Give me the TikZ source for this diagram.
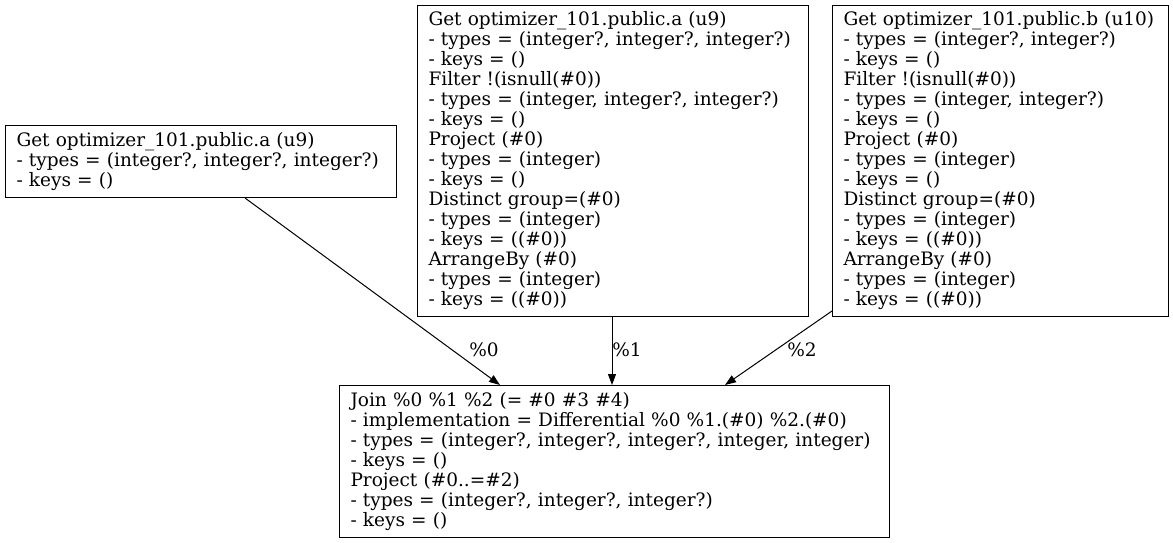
\documentclass[tikz,border=0pt]{standalone}
\usepackage{fontspec}
\setmainfont{DejaVu Serif}
\usetikzlibrary{arrows.meta,calc}
\begin{document}
\begin{tikzpicture}[x=1pt,y=-1pt,
  box/.style={draw,line width=1pt,rectangle,anchor=north west,inner xsep=11pt,inner ysep=0pt,
    align=left,font=\fontsize{18.5}{20}\selectfont},
  lbl/.style={font=\fontsize{18.5}{20}\selectfont,inner sep=0pt},
  conn/.style={line width=1pt,-{Triangle[length=11pt,width=8pt]}}]
\useasboundingbox (0,0) rectangle (1173,543);
\node[box,minimum width=391pt,minimum height=72pt,text width=369pt] (a) at (5,125)
{Get optimizer\_101.public.a (u9)\\- types = (integer?, integer?, integer?)\\- keys = ()};
\node[box,minimum width=391pt,minimum height=311pt,text width=369pt] (m) at (417,5)
{Get optimizer\_101.public.a (u9)\\- types = (integer?, integer?, integer?)\\- keys = ()\\Filter !(isnull(\#0))\\- types = (integer, integer?, integer?)\\- keys = ()\\Project (\#0)\\- types = (integer)\\- keys = ()\\Distinct group=(\#0)\\- types = (integer)\\- keys = ((\#0))\\ArrangeBy (\#0)\\- types = (integer)\\- keys = ((\#0))};
\node[box,minimum width=336pt,minimum height=311pt,text width=314pt] (r) at (832,5)
{Get optimizer\_101.public.b (u10)\\- types = (integer?, integer?)\\- keys = ()\\Filter !(isnull(\#0))\\- types = (integer, integer?)\\- keys = ()\\Project (\#0)\\- types = (integer)\\- keys = ()\\Distinct group=(\#0)\\- types = (integer)\\- keys = ((\#0))\\ArrangeBy (\#0)\\- types = (integer)\\- keys = ((\#0))};
\node[box,minimum width=550pt,minimum height=152pt,text width=528pt] (j) at (339,385)
{Join \%0 \%1 \%2 (= \#0 \#3 \#4)\\- implementation = Differential \%0 \%1.(\#0) \%2.(\#0)\\- types = (integer?, integer?, integer?, integer, integer)\\- keys = ()\\Project (\#0..=\#2)\\- types = (integer?, integer?, integer?)\\- keys = ()};
\draw[conn] ($(a.south west)+(240,0)$) -- ($(j.north west)+(161,0)$);
\node[lbl] (l0) at (484,350) {\%0};
\draw[conn] ($(m.south west)+(195,0)$) -- ($(j.north west)+(273,0)$);
\node[lbl] (l1) at (627,350) {\%1};
\draw[conn] ($(r.south west)+(0,-6)$) -- ($(j.north west)+(386,0)$);
\node[lbl] (l2) at (802,350) {\%2};
\end{tikzpicture}
\end{document}
